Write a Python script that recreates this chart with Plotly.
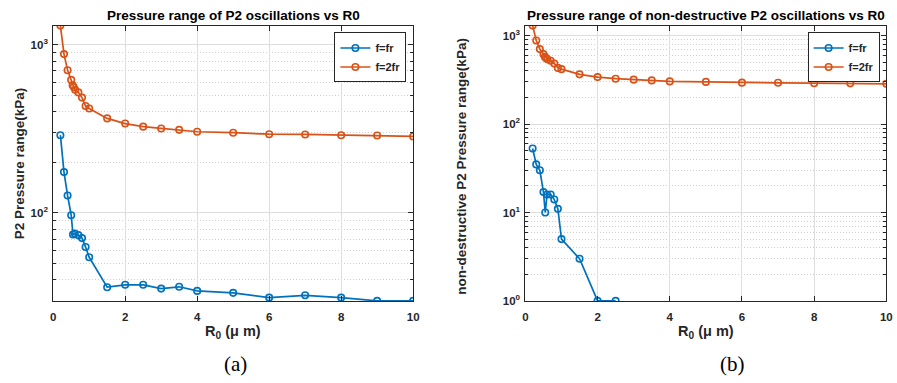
import math
import plotly.graph_objects as go

# R0 sample points (micrometres)
r0_fr = [0.2, 0.3, 0.4, 0.5, 0.55, 0.6, 0.7, 0.8, 0.9, 1.0, 1.5, 2, 2.5, 3, 3.5, 4, 5, 6, 7, 8, 9, 10]
r0_2fr = [0.2, 0.3, 0.4, 0.5, 0.54, 0.57, 0.61, 0.7, 0.8, 0.9, 1.0, 1.5, 2, 2.5, 3, 3.5, 4, 5, 6, 7, 8, 9, 10]

# Pressure range of P2 oscillations (kPa)
p_fr = [290, 175, 127, 97, 74.4, 75.5, 73.8, 70.9, 62.7, 54.5, 36.2, 37.4, 37.4, 35.5, 36.4,
        34.4, 33.5, 31.4, 32.4, 31.4, 30, 30]
p_2fr = [1300, 880, 705, 618, 575, 560, 540, 521, 485, 432, 418, 365, 340, 326, 318, 312,
         304, 300, 294, 293, 290, 289, 285]

# Non-destructive pressure range (kPa)
r0_nd_fr = [0.2, 0.3, 0.4, 0.5, 0.55, 0.6, 0.7, 0.8, 0.9, 1.0, 1.5, 2, 2.5]
p_nd_fr = [53, 35, 30, 17, 10, 16, 16, 14, 11, 5, 3, 1, 1]
r0_nd_2fr = r0_2fr
p_nd_2fr = p_2fr

legend_names = ["f=fr", "f=2fr"]
x_ticks = [0, 2, 4, 6, 8, 10]

BLUE = "#0072BD"
ORANGE = "#D95319"
AX = "#262626"
FONT = "Liberation Sans"

W, H = 897, 383


def px(x):
    return x / W


def py(y):
    return 1 - y / H


fig = go.Figure()


def add_series(x, y, name, color, xa, ya, legend):
    fig.add_trace(go.Scatter(
        x=x, y=y, name=name, mode="lines+markers",
        line=dict(color=color, width=1.7),
        marker=dict(symbol="circle-open", size=6.5, color=color, line=dict(width=1.6)),
        xaxis=xa, yaxis=ya, legend=legend,
    ))


add_series(r0_fr, p_fr, legend_names[0], BLUE, "x", "y", "legend")
add_series(r0_2fr, p_2fr, legend_names[1], ORANGE, "x", "y", "legend")
add_series(r0_nd_fr, p_nd_fr, legend_names[0], BLUE, "x2", "y2", "legend2")
add_series(r0_nd_2fr, p_nd_2fr, legend_names[1], ORANGE, "x2", "y2", "legend2")

TICKFONT = dict(family=FONT, size=11.5, color=AX, weight="bold")


def log_axis(vals, domain):
    lo = math.log10(min(vals))
    hi = math.log10(max(vals))
    decades = list(range(math.ceil(lo - 1e-9), math.floor(hi + 1e-9) + 1))
    majors = [10 ** k for k in decades]
    minors = [m * 10 ** k for k in range(math.floor(lo) - 1, math.ceil(hi) + 1)
              for m in range(2, 10) if lo <= math.log10(m * 10 ** k) <= hi]
    return dict(
        type="log", range=[lo, hi], domain=domain,
        tickmode="array", tickvals=majors,
        ticktext=[f"10<sup>{k}</sup>" for k in decades],
        ticks="inside", ticklen=5, tickcolor=AX, tickwidth=1,
        showline=True, linecolor=AX, linewidth=1, mirror="ticks",
        showgrid=True, gridcolor="#dedede", gridwidth=1,
        minor=dict(tickmode="array", tickvals=minors, ticks="inside", ticklen=3,
                   tickcolor=AX, showgrid=True, gridcolor="#cfcfcf", griddash="1px,2px",
                   gridwidth=1),
        tickfont=TICKFONT,
        zeroline=False, ticklabelstandoff=2,
    )


def lin_axis(domain, anchor):
    return dict(
        range=[0, 10], domain=domain, anchor=anchor,
        tickmode="array", tickvals=x_ticks,
        ticks="inside", ticklen=5, tickcolor=AX, tickwidth=1,
        showline=True, linecolor=AX, linewidth=1, mirror="ticks",
        showgrid=True, gridcolor="#dedede", gridwidth=1, zeroline=False,
        tickfont=TICKFONT,
        ticklabelstandoff=5,
    )


LEGFONT = dict(family=FONT, size=11, color=AX, weight="bold")


def legend_box(right_edge):
    return dict(x=px(right_edge), y=py(33), xanchor="right", yanchor="top",
                bordercolor=AX, borderwidth=1, bgcolor="white", font=LEGFONT,
                itemwidth=30, tracegroupgap=0)


ydom = [py(305.7), py(26)]
fig.update_layout(
    width=W, height=H,
    margin=dict(l=0, r=0, t=0, b=0),
    paper_bgcolor="white", plot_bgcolor="white",
    xaxis=lin_axis([px(50.7), px(414.3)], "y"),
    yaxis=dict(**log_axis(p_fr + p_2fr, ydom), anchor="x"),
    xaxis2=lin_axis([px(527.7), px(892.3)], "y2"),
    yaxis2=dict(**log_axis(p_nd_fr + p_nd_2fr, ydom), anchor="x2"),
    legend=legend_box(407.5),
    legend2=legend_box(885.5),
    showlegend=True,
)


def label(text, x, y, size=13.5, angle=0, family=FONT, weight="bold", color="black"):
    fig.add_annotation(text=text, x=px(x), y=py(y), xref="paper", yref="paper",
                       xanchor="center", yanchor="middle", showarrow=False,
                       textangle=angle,
                       font=dict(family=family, size=size, color=color, weight=weight))


label("Pressure range of P2 oscillations vs R0", 232.5, 16)
label("Pressure range of non-destructive P2 oscillations vs R0", 710, 16)
label("R<sub>0</sub> (\u03bc m)", 232.5, 337, size=14.5, color=AX)
label("R<sub>0</sub> (\u03bc m)", 710, 337, size=14.5, color=AX)
label("P2 Pressure range(kPa)", 17, 166, angle=-90, color=AX)
label("non-destructive P2 Pressure range(kPa)", 463, 169, angle=-90, color=AX)
label("(a)", 235, 370, size=21, family="Liberation Serif", weight="normal")
label("(b)", 736.5, 370, size=21, family="Liberation Serif", weight="normal")

fig.write_html("out.html")
